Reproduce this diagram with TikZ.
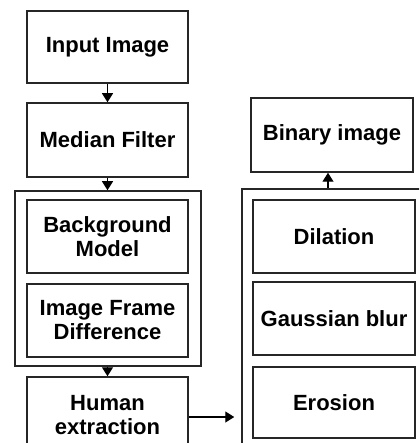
\documentclass[tikz,border=0pt]{standalone}
\usepackage{fontspec}
\setmainfont{Liberation Sans}
\usetikzlibrary{arrows.meta,calc}
\begin{document}
\begin{tikzpicture}[x=1pt,y=-1pt,
  box/.style={draw=black!85,line width=1.5pt,inner sep=0pt,align=center,
    font=\bfseries\fontsize{22}{24}\selectfont},
  frame/.style={draw=black!85,line width=1.5pt,inner sep=0pt},
  arr/.style={line width=1.2pt,-{Triangle[length=9pt,width=11pt]}}]
\path[use as bounding box,fill=white] (0,0) rectangle (419,443);
\clip (0,0) rectangle (419,443);
% left column
\node[box,minimum width=161pt,minimum height=72pt] (inp) at (107.5,47) {Input Image};
\node[box,minimum width=161pt,minimum height=74pt] (med) at (107.5,140) {Median Filter};
\node[frame,minimum width=186pt,minimum height=175pt] (lframe) at (108,278.5) {};
\node[box,minimum width=161pt,minimum height=73pt] (bg) at (107.5,236.5) {Background\\Model};
\node[box,minimum width=161pt,minimum height=73pt] (ifd) at (107.5,320.5) {Image Frame\\Difference};
\node[box,minimum width=161pt,minimum height=76pt] (hum) at (107.5,415) {Human\\extraction};
% right column
\node[box,minimum width=162pt,minimum height=74pt] (bin) at (332,135) {Binary image};
\node[frame,minimum width=200pt,minimum height=266pt] (rframe) at (342,322) {};
\node[box,minimum width=162pt,minimum height=73pt] (dil) at (334,236.5) {Dilation};
\node[box,minimum width=162pt,minimum height=73pt] (gau) at (334,318.5) {Gaussian blur};
\node[box,minimum width=162pt,minimum height=71pt] (ero) at (334,402.5) {Erosion};
% connectors
\draw[arr] (inp.south) -- (med.north);
\draw[arr] (med.south) -- (med.south |- lframe.north);
\draw[arr] (hum.north |- lframe.south) -- (hum.north);
\draw[arr,shorten >=7pt] ([yshift=-2pt]hum.east) -- ([yshift=-2pt]hum.east -| rframe.west);
\draw[arr] ([xshift=-4pt]bin.south |- rframe.north) -- ([xshift=-4pt]bin.south);
\end{tikzpicture}
\end{document}
